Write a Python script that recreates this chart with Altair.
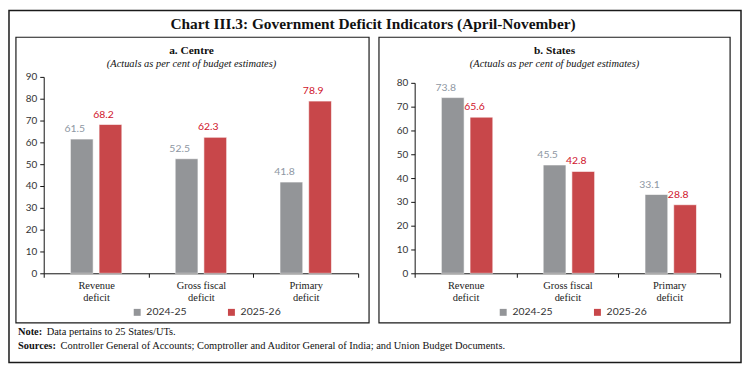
import altair as alt
import pandas as pd

categories = ["Revenue deficit", "Gross fiscal deficit", "Primary deficit"]
years = ["2024-25", "2025-26"]
centre_2024 = [61.5, 52.5, 41.8]
centre_2025 = [68.2, 62.3, 78.9]
states_2024 = [73.8, 45.5, 33.1]
states_2025 = [65.6, 42.8, 28.8]

GRAY = "#939598"
RED = "#c8474a"
GRAY_T = "#8e97a3"
RED_T = "#d0142c"
SERIF = "Liberation Serif"
SANS = "Lato"


def long(a, b):
    rows = []
    for c, v1, v2 in zip(categories, a, b):
        rows.append({"category": c, "year": years[0], "value": v1})
        rows.append({"category": c, "year": years[1], "value": v2})
    return pd.DataFrame(rows)


def text_layer(txt, x, y, size=9.5, weight="normal", style="normal", align="left", font=SERIF, color="#111"):
    return alt.Chart(alt.Data(values=[{}])).mark_text(
        text=txt, align=align, baseline="alphabetic", fontSize=size,
        fontWeight=weight, fontStyle=style, font=font, color=color
    ).encode(x=alt.value(x), y=alt.value(y))


def box_layer(x1, x2, y1, y2, width=1.2):
    return alt.Chart(alt.Data(values=[{}])).mark_rect(
        fill=None, filled=False, stroke="#1a1a1a", strokeWidth=width
    ).encode(x=alt.value(x1), x2=alt.value(x2), y=alt.value(y1), y2=alt.value(y2))


def panel(df, ymax, width, yrange, pad_outer, legend_x):
    base = alt.Chart(df)
    x = alt.X("category:N", sort=categories, title=None,
              scale=alt.Scale(paddingInner=0, paddingOuter=0),
              axis=alt.Axis(labelAngle=0, tickBand="extent", tickSize=4,
                            tickColor="#111", domainColor="#111",
                            labelFont=SERIF, labelFontSize=10.5, labelColor="#222",
                            labelLineHeight=12, labelPadding=3,
                            labelExpr="datum.label == 'Gross fiscal deficit' ? ['Gross fiscal', 'deficit'] : split(datum.label, ' ')"))
    y = alt.Y("value:Q", title=None,
              scale=alt.Scale(domain=[0, ymax], range=yrange, nice=False),
              axis=alt.Axis(values=list(range(0, ymax + 1, 10)), grid=False,
                            tickSize=4, tickColor="#111", domainColor="#111",
                            labelFont=SANS, labelFontSize=10, labelColor="#333",
                            labelPadding=3))
    xoff = alt.XOffset("year:N", sort=years,
                       scale=alt.Scale(paddingInner=0.207, paddingOuter=pad_outer))
    bars = base.mark_bar(stroke="#ffffff", strokeOpacity=0.6, strokeWidth=1).encode(
        x=x, y=y, xOffset=xoff,
        color=alt.Color("year:N", sort=years,
                        scale=alt.Scale(domain=years, range=[GRAY, RED]),
                        legend=alt.Legend(title=None, orient="none", direction="horizontal",
                                          legendX=legend_x, legendY=232,
                                          symbolType="square", symbolSize=49,
                                          symbolStrokeWidth=0,
                                          labelFont=SANS, labelFontSize=10.5,
                                          labelColor="#333", columnPadding=40,
                                          labelOffset=4))
    )
    labels = base.mark_text(baseline="bottom", dx=-7, dy=-5, font=SANS, fontSize=10.5).encode(
        x=x, y=y, xOffset=xoff,
        text=alt.Text("value:Q", format=".1f"),
        color=alt.condition(alt.datum.year == years[0], alt.value(GRAY_T), alt.value(RED_T)),
    )
    return bars, labels


# Left panel: plot origin page (43,75)
lb, ll = panel(long(centre_2024, centre_2025), 90, 317, [198, 0], 0.93, 89)
left = alt.layer(
    box_layer(-35, 703, -67, 288, 1.5),
    box_layer(-28, 328, -40, 248),
    text_layer("Chart III.3: Government Deficit Indicators (April-November)", 332, -48,
               size=15.5, weight="bold", align="center"),
    text_layer("a. Centre", 149, -23, size=11.5, weight="bold", align="center"),
    text_layer("(Actuals as per cent of budget estimates)", 149, -10, size=10.5,
               style="italic", align="center"),
    text_layer("Note:", -26, 260, size=10.5, weight="bold"),
    text_layer("Data pertains to 25 States/UTs.", 3, 260, size=10.5),
    text_layer("Sources:", -26, 274, size=10.5, weight="bold"),
    text_layer("Controller General of Accounts; Comptroller and Auditor General of India; and Union Budget Documents.",
               17, 274, size=10.5),
    lb, ll,
).properties(width=317, height=198)

# Right panel: plot origin page (417,75)
rb, rl = panel(long(states_2024, states_2025), 80, 308, [198, 6], 0.88, 84)
right = alt.layer(
    box_layer(-36, 318, -40, 248),
    text_layer("b. States", 141, -23, size=11.5, weight="bold", align="center"),
    text_layer("(Actuals as per cent of budget estimates)", 141, -10, size=10.5,
               style="italic", align="center"),
    rb, rl,
).properties(width=308, height=198)

chart = alt.hconcat(left, right, spacing=57, bounds="flush").resolve_scale(
    color="independent"
).resolve_legend(color="independent").properties(padding=0).configure_view(stroke=None)

chart.save("out.html", embed_options={"renderer": "svg", "actions": False})
